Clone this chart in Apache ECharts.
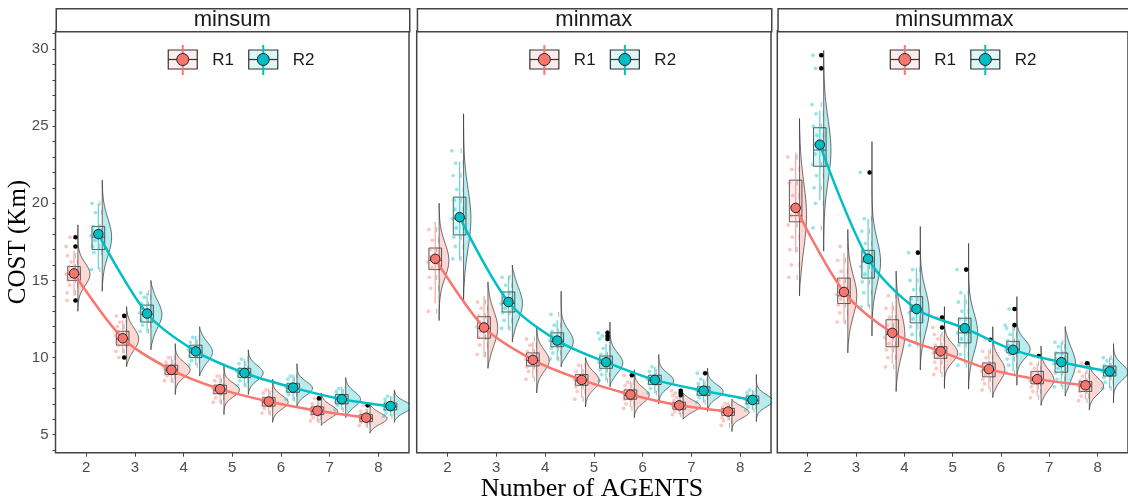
<!DOCTYPE html>
<html>
<head>
<meta charset="utf-8">
<script src="https://cdn.jsdelivr.net/npm/echarts@6/dist/echarts.min.js"></script>
<style>
    html, body { margin: 0; padding: 0; background: #fff; }
    #chart { width: 1128px; height: 501px; }
</style>
</head>
<body>
<div id="chart"></div>
<script>
const panels = ['minsum', 'minmax', 'minsummax'];
const groups = ['R1', 'R2'];
const agents = [2, 3, 4, 5, 6, 7, 8];
const xTicks = [2, 3, 4, 5, 6, 7, 8];
const yTicks = [5, 10, 15, 20, 25, 30];

// minsum
const minsumR1Mean = [15.45, 11.25, 9.2, 7.95, 7.15, 6.55, 6.1];
const minsumR1Box = [[15.0, 15.4, 15.9], [10.8, 11.2, 11.7], [8.9, 9.2, 9.5], [7.65, 7.9, 8.2], [6.85, 7.1, 7.4], [6.3, 6.5, 6.8], [5.85, 6.05, 6.3]];
const minsumR1Whisker = [[14.0, 16.9], [10.3, 12.4], [8.4, 10.1], [7.0, 8.9], [6.3, 8.0], [5.8, 7.2], [5.5, 6.7]];
const minsumR1Violin = [[13.0, 18.6], [9.4, 13.3], [7.6, 10.9], [6.3, 9.6], [5.8, 8.6], [5.6, 7.7], [5.1, 7.0]];
const minsumR1Outliers = [[17.8, 17.2, 13.7], [12.7, 10.0], [], [], [], [7.35], [6.9]];
const minsumR1Points = [
    [14.2, 14.7, 15.0, 15.2, 15.4, 15.6, 15.9, 16.2, 16.6],
    [10.4, 10.8, 11.0, 11.2, 11.4, 11.7, 12.0, 12.3],
    [8.5, 8.8, 9.0, 9.1, 9.3, 9.5, 9.7, 10.0],
    [7.1, 7.4, 7.7, 7.9, 8.0, 8.2, 8.5, 8.8],
    [6.4, 6.7, 6.9, 7.1, 7.2, 7.4, 7.7, 7.9],
    [5.9, 6.1, 6.3, 6.5, 6.6, 6.8, 7.0],
    [5.6, 5.8, 5.9, 6.0, 6.2, 6.3, 6.5]
];
const minsumR2Mean = [18.0, 12.85, 10.4, 9.0, 8.05, 7.3, 6.85];
const minsumR2Box = [[17.0, 17.8, 18.5], [12.3, 12.8, 13.4], [10.0, 10.35, 10.8], [8.7, 9.0, 9.3], [7.75, 8.0, 8.3], [7.0, 7.3, 7.6], [6.6, 6.8, 7.05]];
const minsumR2Whisker = [[15.7, 20.0], [11.6, 14.2], [9.5, 11.4], [8.1, 9.9], [7.2, 8.9], [6.6, 8.1], [6.2, 7.5]];
const minsumR2Violin = [[14.3, 21.5], [10.5, 15.0], [8.8, 12.0], [7.6, 10.5], [6.8, 9.6], [6.1, 8.7], [5.8, 7.9]];
const minsumR2Outliers = [[], [], [], [], [], [], []];
const minsumR2Points = [
    [15.7, 16.8, 17.2, 17.6, 17.9, 18.2, 18.5, 19.4, 20.0],
    [11.7, 12.1, 12.4, 12.7, 12.9, 13.2, 13.5, 13.9, 14.2],
    [9.5, 9.8, 10.1, 10.3, 10.5, 10.7, 11.0, 11.3],
    [8.2, 8.5, 8.8, 9.0, 9.1, 9.3, 9.6, 9.9],
    [7.3, 7.6, 7.8, 8.0, 8.1, 8.3, 8.6, 8.8],
    [6.6, 6.9, 7.1, 7.3, 7.4, 7.6, 7.8, 8.0],
    [6.2, 6.4, 6.6, 6.8, 6.9, 7.1, 7.3, 7.5]
];

// minmax
const minmaxR1Mean = [16.4, 11.95, 9.85, 8.55, 7.6, 6.9, 6.5];
const minmaxR1Box = [[15.7, 16.3, 17.1], [11.25, 11.9, 12.65], [9.45, 9.8, 10.3], [8.2, 8.5, 8.9], [7.3, 7.55, 7.9], [6.65, 6.85, 7.1], [6.25, 6.45, 6.7]];
const minmaxR1Whisker = [[13.5, 18.8], [10.0, 14.0], [8.7, 11.0], [7.4, 9.6], [6.8, 8.5], [6.3, 7.45], [5.9, 7.1]];
const minmaxR1Violin = [[12.4, 20.0], [9.3, 14.9], [7.7, 12.0], [6.8, 10.0], [6.1, 9.2], [6.0, 7.7], [5.2, 7.3]];
const minmaxR1Outliers = [[], [], [], [], [8.85], [7.55, 7.7, 7.85], []];
const minmaxR1Points = [
    [13.0, 14.5, 15.2, 15.8, 16.2, 16.5, 17.0, 17.6, 18.3],
    [10.2, 10.8, 11.3, 11.7, 12.0, 12.3, 12.7, 13.2, 13.6],
    [8.6, 9.1, 9.4, 9.7, 9.9, 10.1, 10.4, 10.8, 11.2],
    [7.3, 7.8, 8.1, 8.4, 8.6, 8.8, 9.1, 9.5],
    [6.7, 7.0, 7.3, 7.5, 7.7, 7.9, 8.2, 8.4],
    [6.3, 6.5, 6.7, 6.8, 6.9, 7.0, 7.2, 7.4],
    [5.6, 5.9, 6.1, 6.3, 6.5, 6.6, 6.8, 7.0]
];
const minmaxR2Mean = [19.1, 13.6, 11.1, 9.7, 8.55, 7.85, 7.25];
const minmaxR2Box = [[17.95, 19.0, 20.4], [12.95, 13.5, 14.25], [10.7, 11.05, 11.6], [9.3, 9.65, 10.1], [8.25, 8.5, 8.85], [7.55, 7.8, 8.1], [7.0, 7.2, 7.5]];
const minmaxR2Whisker = [[16.3, 22.7], [11.8, 15.3], [9.8, 12.4], [8.5, 10.9], [7.7, 9.4], [7.1, 8.6], [6.6, 7.9]];
const minmaxR2Violin = [[13.6, 25.8], [11.0, 16.0], [9.4, 14.3], [8.1, 12.3], [7.0, 10.2], [6.5, 9.3], [5.85, 8.9]];
const minmaxR2Outliers = [[], [], [], [11.2, 11.4, 11.6], [], [8.98], []];
const minmaxR2Points = [
    [16.4, 17.2, 17.8, 18.4, 19.0, 19.6, 20.2, 20.9, 21.8, 22.6, 23.4],
    [11.9, 12.4, 12.9, 13.2, 13.5, 13.8, 14.2, 14.7, 15.2],
    [9.9, 10.3, 10.6, 10.9, 11.1, 11.4, 11.7, 12.1, 12.8],
    [8.5, 8.9, 9.2, 9.5, 9.7, 9.9, 10.2, 10.6],
    [7.7, 8.0, 8.3, 8.5, 8.6, 8.8, 9.1, 9.4],
    [7.1, 7.4, 7.6, 7.8, 7.9, 8.1, 8.3, 8.6],
    [6.6, 6.8, 7.0, 7.2, 7.3, 7.5, 7.7, 7.9]
];

// minsummax
const minsummaxR1Mean = [19.7, 14.25, 11.6, 10.4, 9.25, 8.6, 8.2];
const minsummaxR1Box = [[18.8, 19.2, 21.5], [13.5, 14.0, 15.15], [10.7, 11.5, 12.45], [9.95, 10.3, 10.7], [8.75, 9.2, 9.65], [8.3, 8.55, 9.1], [7.8, 8.15, 8.45]];
const minsummaxR1Whisker = [[16.8, 23.3], [12.2, 16.8], [9.6, 13.6], [9.0, 11.5], [8.0, 10.5], [7.5, 9.6], [7.3, 9.1]];
const minsummaxR1Violin = [[14.0, 25.5], [10.3, 18.3], [7.8, 15.6], [8.0, 13.3], [7.4, 12.0], [6.9, 10.75], [6.6, 9.7]];
const minsummaxR1Outliers = [[], [], [], [12.6, 11.95], [11.15], [10.1], [9.63]];
const minsummaxR1Points = [
    [15.2, 16.0, 17.0, 17.8, 18.6, 19.2, 19.8, 20.5, 21.3, 22.2, 23.0],
    [12.3, 12.9, 13.4, 13.8, 14.1, 14.5, 15.0, 15.6, 16.3, 17.2],
    [9.4, 10.0, 10.5, 10.9, 11.3, 11.7, 12.1, 12.6, 13.2, 14.0],
    [8.9, 9.3, 9.7, 10.0, 10.3, 10.5, 10.8, 11.2, 11.5],
    [7.9, 8.3, 8.6, 8.9, 9.1, 9.3, 9.6, 10.0, 10.4],
    [7.4, 7.8, 8.1, 8.3, 8.5, 8.7, 9.0, 9.3, 9.6],
    [7.2, 7.5, 7.8, 8.0, 8.2, 8.3, 8.5, 8.8, 9.1]
];
const minsummaxR2Mean = [23.8, 16.4, 13.15, 11.9, 10.5, 9.7, 9.1];
const minsummaxR2Box = [[22.4, 23.45, 24.9], [15.15, 16.2, 16.95], [12.25, 13.0, 13.95], [10.95, 11.6, 12.55], [10.3, 10.55, 11.05], [9.05, 9.6, 10.3], [8.8, 9.05, 9.45]];
const minsummaxR2Whisker = [[20.2, 26.0], [13.3, 19.0], [10.8, 15.8], [9.6, 14.1], [9.1, 12.0], [8.1, 11.0], [8.0, 10.0]];
const minsummaxR2Violin = [[16.9, 29.9], [11.4, 24.0], [9.2, 18.5], [7.95, 17.4], [8.2, 13.95], [7.5, 12.0], [7.05, 10.9]];
const minsummaxR2Outliers = [[29.6, 28.75], [22.0], [16.8], [15.7], [13.15, 12.1], [], []];
const minsummaxR2Points = [
    [18.4, 20.0, 21.0, 21.8, 22.5, 23.2, 23.8, 24.4, 25.0, 25.8, 26.4],
    [13.3, 14.2, 14.9, 15.4, 15.9, 16.3, 16.8, 17.4, 18.2, 19.0],
    [10.8, 11.5, 12.0, 12.5, 12.9, 13.3, 13.8, 14.4, 15.0, 15.7],
    [9.5, 10.2, 10.8, 11.2, 11.6, 12.0, 12.5, 13.0, 13.6, 14.2],
    [9.0, 9.5, 9.9, 10.2, 10.5, 10.8, 11.1, 11.5, 11.9],
    [8.1, 8.6, 9.0, 9.3, 9.6, 9.9, 10.3, 10.7, 11.0],
    [8.0, 8.4, 8.7, 8.9, 9.1, 9.3, 9.5, 9.8, 10.0]
];

const panelData = [
    [
        [minsumR1Mean, minsumR1Box, minsumR1Whisker, minsumR1Violin, minsumR1Outliers, minsumR1Points],
        [minsumR2Mean, minsumR2Box, minsumR2Whisker, minsumR2Violin, minsumR2Outliers, minsumR2Points]
    ],
    [
        [minmaxR1Mean, minmaxR1Box, minmaxR1Whisker, minmaxR1Violin, minmaxR1Outliers, minmaxR1Points],
        [minmaxR2Mean, minmaxR2Box, minmaxR2Whisker, minmaxR2Violin, minmaxR2Outliers, minmaxR2Points]
    ],
    [
        [minsummaxR1Mean, minsummaxR1Box, minsummaxR1Whisker, minsummaxR1Violin, minsummaxR1Outliers, minsummaxR1Points],
        [minsummaxR2Mean, minsummaxR2Box, minsummaxR2Whisker, minsummaxR2Violin, minsummaxR2Outliers, minsummaxR2Points]
    ]
];

const colors = ['#F8766D', '#00BFC4'];
const fills = ['rgba(248,118,109,0.28)', 'rgba(0,191,196,0.28)'];
const boxFills = ['rgba(248,118,109,0.13)', 'rgba(0,191,196,0.13)'];
const dodge = [-0.25, 0.25];

const gridTop = 31;
const gridHeight = 421.7;
const gridBoxes = [
    { left: 55.5, width: 353.5 },
    { left: 416.7, width: 354.3 },
    { left: 777.3, width: 354 }
];

function makeRender(box, whisker, violin, outliers, points, g) {
    return function (params, api) {
        const i = api.value(2);
        const xc = api.value(0);
        const unit = api.size([1, 0])[0];
        const cx = api.coord([xc, api.value(1)])[0];
        const Y = function (v) { return api.coord([xc, v])[1]; };
        const children = [];

        // half violin on the right side
        const q1 = box[i][0], med = box[i][1], q3 = box[i][2];
        const vmin = violin[i][0], vmax = violin[i][1];
        const iqr = Math.max(q3 - q1, 0.25);
        const sigma = iqr * 0.8;
        const wmax = Math.min(18, 11.5 / Math.sqrt(iqr));
        const base = cx + 0.08 * unit;
        const n = 48;
        const poly = [[base, Y(vmin)]];
        for (let k = 0; k <= n; k++) {
            const v = vmin + (vmax - vmin) * k / n;
            const taper = Math.min(1, k / 5, (n - k) / 5);
            const w = wmax * Math.exp(-0.5 * Math.pow((v - med) / sigma, 2)) * taper;
            poly.push([base + w, Y(v)]);
        }
        poly.push([base, Y(vmax)]);
        children.push({
            type: 'polygon',
            shape: { points: poly },
            style: { fill: fills[g], stroke: '#333', lineWidth: 0.7 }
        });

        // box
        const half = 0.13 * unit;
        children.push({
            type: 'rect',
            shape: { x: cx - half, y: Y(q3), width: half * 2, height: Y(q1) - Y(q3) },
            style: { fill: boxFills[g], stroke: '#333', lineWidth: 0.8 }
        });
        children.push({
            type: 'line',
            shape: { x1: cx - half, y1: Y(med), x2: cx + half, y2: Y(med) },
            style: { stroke: '#333', lineWidth: 0.8 }
        });

        // coloured range
        children.push({
            type: 'line',
            shape: { x1: cx, y1: Y(whisker[i][0]), x2: cx, y2: Y(whisker[i][1]) },
            style: { stroke: colors[g], lineWidth: 1.3, opacity: 0.6 }
        });

        // raw points: dots on the left, grey dashes to the right
        const jitter = [-2, 0.5, -1, 1.5, -2.5, 0, -0.5, 2, -1.5, 1, -3];
        const all = points[i].concat(outliers[i]);
        all.forEach(function (v, j) {
            const y = Y(v);
            children.push({
                type: 'circle',
                shape: { cx: cx - 0.1 * unit + jitter[j % jitter.length], cy: y, r: 1.9 },
                style: { fill: colors[g], opacity: 0.4 }
            });
            const dx = cx + 0.03 * unit + (j % 2) * 2;
            children.push({
                type: 'line',
                shape: { x1: dx, y1: y - 2.5, x2: dx, y2: y + 2.5 },
                style: { stroke: '#666', lineWidth: 0.9, opacity: 0.55 }
            });
        });
        outliers[i].forEach(function (v) {
            children.push({
                type: 'circle',
                shape: { cx: cx + 0.03 * unit, cy: Y(v), r: 2.3 },
                style: { fill: '#000' }
            });
        });

        return { type: 'group', children: children };
    };
}

const grids = [];
const xAxes = [];
const yAxes = [];
const series = [];
const graphics = [];

gridBoxes.forEach(function (b, p) {
    grids.push({
        left: b.left, top: gridTop, width: b.width, height: gridHeight,
        show: true, borderColor: '#444', borderWidth: 1.5, backgroundColor: '#fff'
    });
    xAxes.push({
        type: 'value', gridIndex: p, min: 1.37, max: 8.63,
        axisLine: { show: false },
        splitLine: { show: false },
        axisTick: { show: true, length: 4, customValues: xTicks, lineStyle: { color: '#444' } },
        axisLabel: { customValues: xTicks, color: '#4d4d4d', fontSize: 15, margin: 8, fontFamily: 'Liberation Sans' }
    });
    yAxes.push({
        type: 'value', gridIndex: p, min: 3.83, max: 31.17,
        axisLine: { show: false },
        splitLine: { show: false },
        axisTick: {
            show: p === 0, length: 3, lineStyle: { color: '#444' },
            customValues: [4, 5, 6, 7, 8, 9, 10, 11, 12, 13, 14, 15, 16, 17, 18, 19, 20, 21, 22, 23, 24, 25, 26, 27, 28, 29, 30, 31]
        },
        axisLabel: { show: p === 0, customValues: yTicks, color: '#4d4d4d', fontSize: 15, margin: 7, fontFamily: 'Liberation Sans' }
    });

    // strip header
    graphics.push({
        type: 'rect', left: b.left, top: 8,
        shape: { width: b.width, height: 23 },
        style: { fill: '#fff', stroke: '#444', lineWidth: 1.5 }
    });
    graphics.push({
        type: 'text', x: b.left + b.width / 2, y: 19.5,
        style: { text: panels[p], fontSize: 22, fontFamily: 'Liberation Sans', fill: '#1a1a1a', align: 'center', verticalAlign: 'middle' }
    });

    // legend inside the panel
    const cx = b.left + b.width / 2;
    [-49.5, 31].forEach(function (off, g) {
        const gx = cx + off;
        graphics.push({ type: 'rect', shape: { x: gx - 14.5, y: 50, width: 29, height: 19 }, style: { fill: boxFills[g], stroke: '#333', lineWidth: 1.2 } });
        graphics.push({ type: 'line', shape: { x1: gx - 14.5, y1: 59.5, x2: gx + 14.5, y2: 59.5 }, style: { stroke: '#333', lineWidth: 1.2 } });
        graphics.push({ type: 'line', shape: { x1: gx, y1: 45, x2: gx, y2: 75 }, style: { stroke: colors[g], lineWidth: 2 } });
        graphics.push({ type: 'circle', shape: { cx: gx, cy: 59.5, r: 6 }, style: { fill: colors[g], stroke: '#222', lineWidth: 1 } });
        graphics.push({
            type: 'text', x: gx + 29.5, y: 60,
            style: { text: groups[g], fontSize: 17, fontFamily: 'Liberation Sans', fill: '#1a1a1a', verticalAlign: 'middle' }
        });
    });

    panelData[p].forEach(function (d, g) {
        const mean = d[0];
        const rows = agents.map(function (a, i) { return [a + dodge[g], mean[i], i]; });
        series.push({
            type: 'custom', xAxisIndex: p, yAxisIndex: p, clip: true, z: 2,
            renderItem: makeRender(d[1], d[2], d[3], d[4], d[5], g),
            encode: { x: 0, y: 1 },
            data: rows,
            silent: true
        });
        series.push({
            type: 'line', xAxisIndex: p, yAxisIndex: p, z: 3,
            smooth: 0.3, showSymbol: false, symbol: 'none',
            lineStyle: { color: colors[g], width: 2.5 },
            data: rows.map(function (r) { return [r[0], r[1]]; }),
            silent: true
        });
        series.push({
            type: 'scatter', xAxisIndex: p, yAxisIndex: p, z: 4,
            symbolSize: 9.5,
            itemStyle: { color: colors[g], borderColor: '#222', borderWidth: 1, opacity: 1 },
            data: rows.map(function (r) { return [r[0], r[1]]; }),
            silent: true
        });
    });
});

// axis titles
graphics.push({
    type: 'text', x: 18, y: 242, rotation: Math.PI / 2,
    style: { text: 'COST (Km)', fontSize: 25, fontFamily: 'Liberation Serif', fill: '#000', align: 'center', verticalAlign: 'middle' }
});
graphics.push({
    type: 'text', x: 592, y: 489,
    style: { text: 'Number of AGENTS', fontSize: 26, fontFamily: 'Liberation Serif', fill: '#000', align: 'center', verticalAlign: 'middle' }
});

const chart = echarts.init(document.getElementById('chart'), null, { renderer: 'canvas' });
chart.setOption({
    animation: false,
    backgroundColor: '#fff',
    grid: grids,
    xAxis: xAxes,
    yAxis: yAxes,
    series: series,
    graphic: graphics
});
</script>
</body>
</html>
